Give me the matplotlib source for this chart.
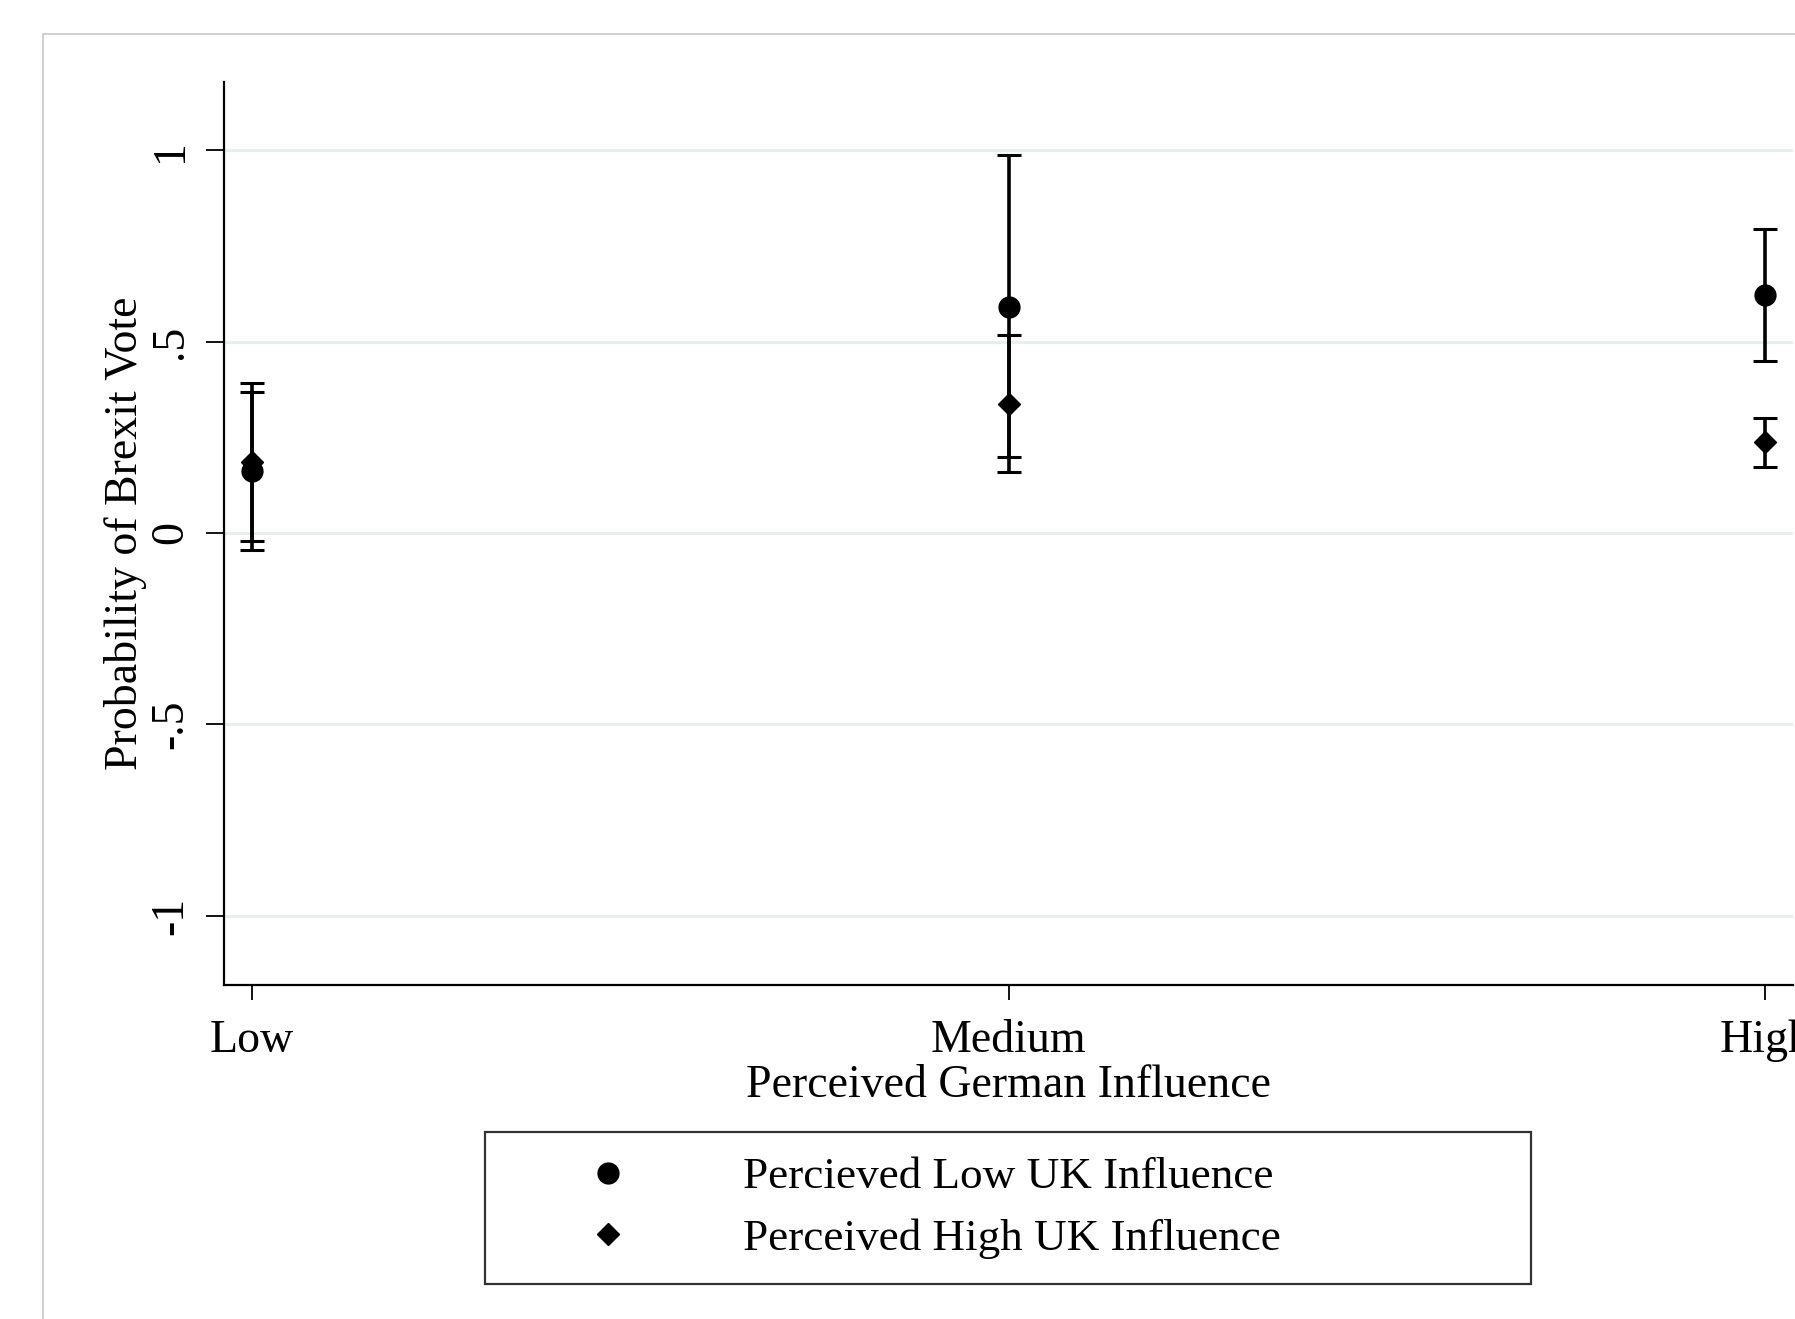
import matplotlib
matplotlib.use("Agg")
import matplotlib.pyplot as plt
from matplotlib.patches import Rectangle

# Values (predicted probabilities with 95% CIs)
categories = ["Low", "Medium", "High"]
low_uk_est = [0.161, 0.590, 0.622]
low_uk_lo = [-0.046, 0.198, 0.449]
low_uk_hi = [0.368, 0.987, 0.795]
high_uk_est = [0.185, 0.337, 0.237]
high_uk_lo = [-0.020, 0.159, 0.172]
high_uk_hi = [0.391, 0.516, 0.301]
series_labels = ["Percieved Low UK Influence", "Perceived High UK Influence"]
yticks = [-1, -0.5, 0, 0.5, 1]
ytick_labels = ["-1", "-.5", "0", ".5", "1"]

plt.rcParams["font.family"] = ["Liberation Serif", "DejaVu Serif"]
FS = 33

W, H = 1795, 1319
fig = plt.figure(figsize=(W / 100, H / 100), dpi=100)

# light frame around the whole graph region
fig.patches.append(Rectangle((43 / W, -0.1), 1.2, 1 - 34 / H + 0.1,
                             transform=fig.transFigure, fill=False,
                             edgecolor="#c8c8c8", linewidth=1.2))

ax = fig.add_axes([224 / W, 1 - 984.5 / H, 1569 / W, (984.5 - 82.4) / H])
x = list(range(len(categories)))

for est, lo, hi, mk, ms in [(low_uk_est, low_uk_lo, low_uk_hi, "o", 15),
                            (high_uk_est, high_uk_lo, high_uk_hi, "D", 11.5)]:
    yerr = [[e - l for e, l in zip(est, lo)], [h - e for e, h in zip(est, hi)]]
    ax.errorbar(x, est, yerr=yerr, fmt=mk, color="black", markersize=ms,
                elinewidth=2.6, capsize=8.3, capthick=2.2, zorder=3)

ax.set_xlim(-0.0364, 2.0364)
ax.set_ylim(-1.18, 1.177)
ax.set_yticks(yticks)
ax.set_yticklabels(ytick_labels, rotation=90, va="center", fontsize=FS)
ax.set_xticks(x)
ax.set_xticklabels(categories, fontsize=FS)
ax.tick_params(axis="y", length=13, width=1.3, pad=10)
ax.tick_params(axis="x", length=11, width=1.3, pad=14)
ax.grid(axis="y", color="#e6eff0", linewidth=2.2, zorder=0)
ax.set_axisbelow(True)
for s in ["top", "right"]:
    ax.spines[s].set_visible(False)
ax.spines["left"].set_linewidth(1.6)
ax.spines["bottom"].set_linewidth(1.6)

ax.set_ylabel("Probability of Brexit Vote", fontsize=FS, labelpad=2)
ax.set_xlabel("Perceived German Influence", fontsize=FS, labelpad=2)

handles = [plt.Line2D([], [], marker="o", color="black", linestyle="none", markersize=15),
           plt.Line2D([], [], marker="D", color="black", linestyle="none", markersize=11.5)]
leg = fig.legend(handles, series_labels, loc="upper left",
                 bbox_to_anchor=(485 / W, 1 - 1132 / H, (1531 - 485) / W, 0.0),
                 mode="expand", fontsize=32.5, frameon=True, fancybox=False,
                 borderaxespad=0, borderpad=0.55, labelspacing=0.47,
                 handlelength=4.34, handletextpad=0.82)
leg.get_frame().set_edgecolor("black")
leg.get_frame().set_linewidth(1.6)

fig.savefig("out.png", dpi=100)
